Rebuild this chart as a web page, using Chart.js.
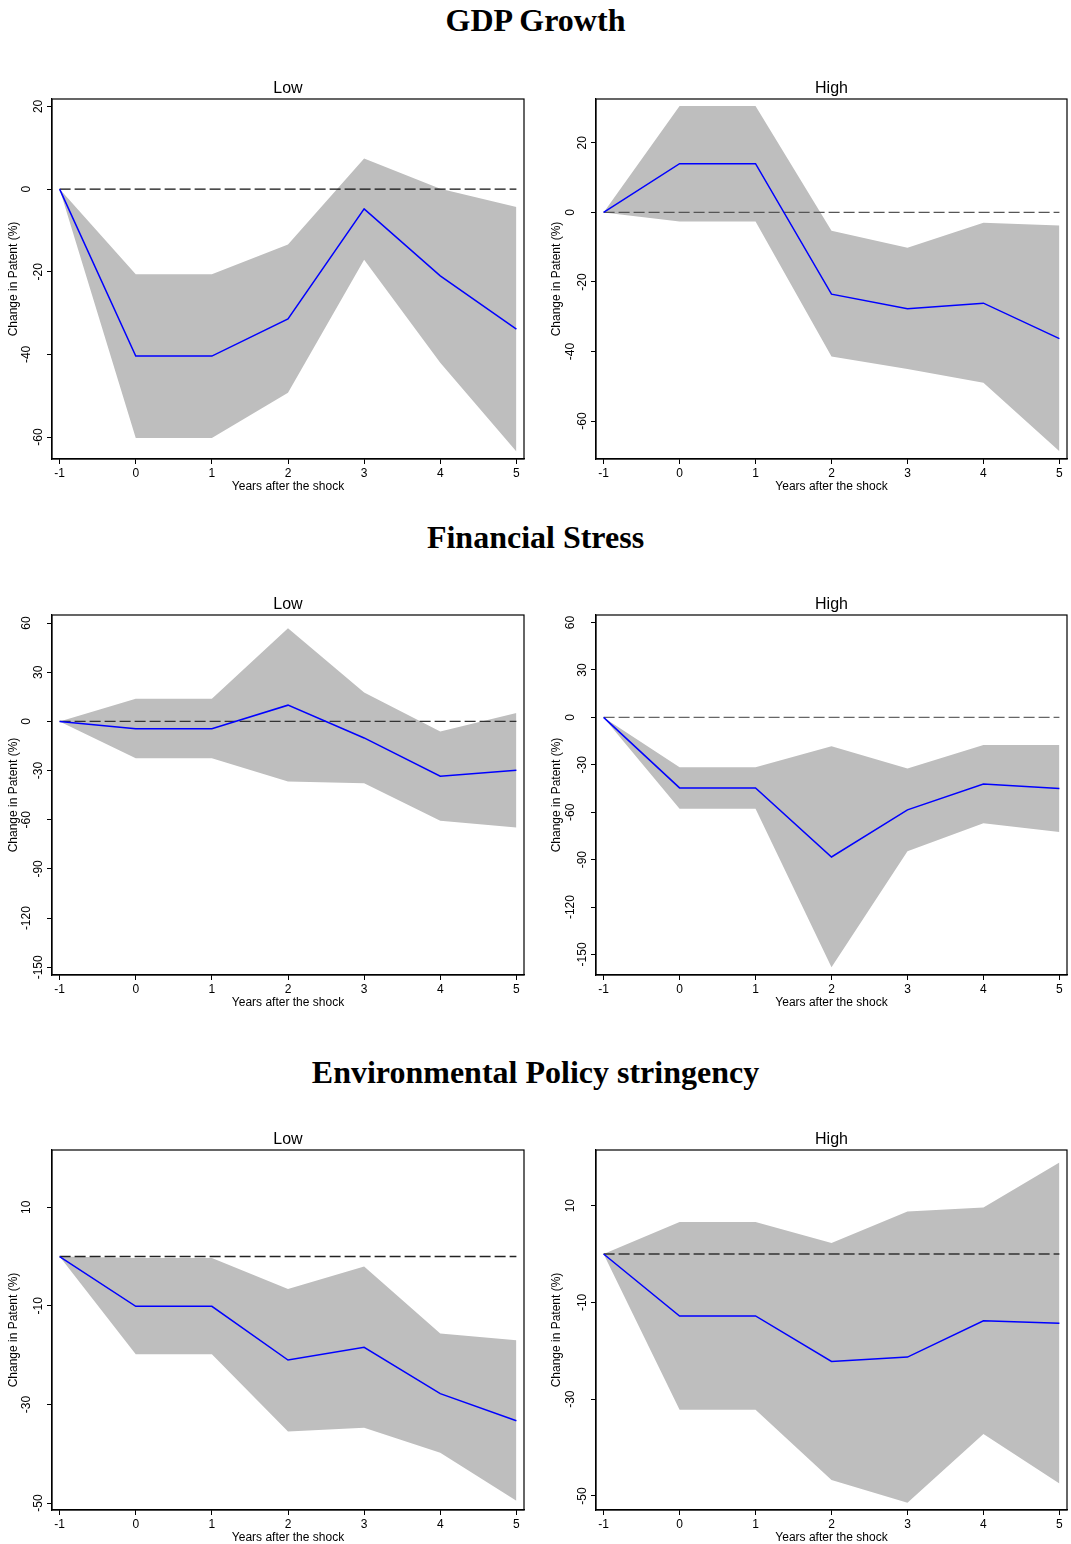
<!DOCTYPE html>
<html>
<head>
<meta charset="utf-8">
<script src="https://cdn.jsdelivr.net/npm/chart.js@4"></script>
<style>
  body { margin: 0; width: 1071px; height: 1544px; position: relative; background: #fff; overflow: hidden; }
  .sec { position: absolute; left: 0; width: 1071px; height: 40px; line-height: 40px; text-align: center;
         font: bold 32px "Liberation Serif", "Times New Roman", serif; color: #000; }
  canvas { position: absolute; }
</style>
</head>
<body>
<div class="sec" style="top:2px">GDP Growth</div>
<div class="sec" style="top:519px">Financial Stress</div>
<div class="sec" style="top:1054px">Environmental Policy stringency</div>

<canvas id="gdpLow" width="536" height="432" style="left:0px;top:69px"></canvas>
<canvas id="gdpHigh" width="528" height="432" style="left:543px;top:69px"></canvas>
<canvas id="fsLow" width="536" height="432" style="left:0px;top:585px"></canvas>
<canvas id="fsHigh" width="528" height="432" style="left:543px;top:585px"></canvas>
<canvas id="envLow" width="536" height="432" style="left:0px;top:1120px"></canvas>
<canvas id="envHigh" width="528" height="432" style="left:543px;top:1120px"></canvas>

<script>
// years after the shock
const years = [-1, 0, 1, 2, 3, 4, 5];

// GDP growth
const gdpLowMean = [0, -40.4, -40.4, -31.4, -4.8, -21.0, -33.9];
const gdpLowUpper = [0, -20.6, -20.6, -13.4, 7.4, 0.1, -4.3];
const gdpLowLower = [0, -60.2, -60.2, -49.3, -17.1, -42.0, -63.5];
const gdpHighMean = [0, 14.0, 14.0, -23.5, -27.7, -26.1, -36.3];
const gdpHighUpper = [0, 30.6, 30.6, -5.3, -10.2, -3.0, -3.8];
const gdpHighLower = [0, -2.6, -2.6, -41.4, -45.0, -49.0, -68.7];

// financial stress
const fsLowMean = [0, -4.5, -4.5, 9.9, -10.1, -33.4, -29.8];
const fsLowUpper = [0, 13.8, 13.8, 56.8, 17.6, -6.1, 5.1];
const fsLowLower = [0, -22.5, -22.5, -36.7, -37.7, -60.6, -64.7];
const fsHighMean = [0, -44.6, -44.6, -88.3, -58.5, -42.1, -45.0];
const fsHighUpper = [0, -31.5, -31.5, -18.3, -32.4, -17.5, -17.5];
const fsHighLower = [0, -57.8, -57.8, -158.1, -84.7, -66.9, -72.5];

// environmental policy stringency
const envLowMean = [0, -10.1, -10.1, -21.0, -18.4, -27.8, -33.3];
const envLowUpper = [0, -0.3, -0.3, -6.6, -2.0, -15.6, -17.0];
const envLowLower = [0, -19.8, -19.8, -35.5, -34.7, -39.8, -49.5];
const envHighMean = [0, -12.8, -12.8, -22.2, -21.3, -13.8, -14.3];
const envHighUpper = [0, 6.6, 6.6, 2.3, 8.8, 9.6, 18.9];
const envHighLower = [0, -32.2, -32.2, -46.7, -51.4, -37.2, -47.4];

// y tick labels
const gdpTicks = [-60, -40, -20, 0, 20];
const fsTicks = [-150, -120, -90, -60, -30, 0, 30, 60];
const envTicks = [-50, -30, -10, 10];

const panels = [
  { id: 'gdpLow', title: 'Low', mean: gdpLowMean, upper: gdpLowUpper, lower: gdpLowLower, ticks: gdpTicks, min: -65.3, max: 21.8, zero: '#111', right: 12, yw: 52 },
  { id: 'gdpHigh', title: 'High', mean: gdpHighMean, upper: gdpHighUpper, lower: gdpHighLower, ticks: gdpTicks, min: -70.9, max: 32.6, zero: '#555', right: 4, yw: 53 },
  { id: 'fsLow', title: 'Low', mean: fsLowMean, upper: fsLowUpper, lower: fsLowLower, ticks: fsTicks, min: -154.7, max: 64.9, zero: '#333', right: 12, yw: 52 },
  { id: 'fsHigh', title: 'High', mean: fsHighMean, upper: fsHighUpper, lower: fsHighLower, ticks: fsTicks, min: -163.0, max: 64.8, zero: '#666', right: 4, yw: 53 },
  { id: 'envLow', title: 'Low', mean: envLowMean, upper: envLowUpper, lower: envLowLower, ticks: envTicks, min: -51.4, max: 21.6, zero: '#222', right: 12, yw: 52 },
  { id: 'envHigh', title: 'High', mean: envHighMean, upper: envHighUpper, lower: envHighLower, ticks: envTicks, min: -52.9, max: 21.5, zero: '#333', right: 4, yw: 53 },
];

const FONT = '"Liberation Sans", Arial, Helvetica, sans-serif';
Chart.defaults.font.family = FONT;
Chart.defaults.color = '#000';

// box around plot, panel title over the plot, rotated + alternating y labels (stata style)
const stataFrame = {
  id: 'stataFrame',
  afterDraw(chart, args, opts) {
    const { ctx, chartArea: a } = chart;
    const y = chart.scales.y;
    ctx.save();
    ctx.strokeStyle = '#000';
    ctx.lineWidth = 1.2;
    ctx.strokeRect(a.left, a.top, a.right - a.left, a.bottom - a.top);
    ctx.fillStyle = '#000';
    ctx.textAlign = 'center';
    ctx.textBaseline = 'middle';
    ctx.font = `16px ${FONT}`;
    ctx.fillText(opts.text, (a.left + a.right) / 2, a.top - 10.5);
    ctx.font = `12px ${FONT}`;
    const vals = y.ticks.map((t) => t.value).sort((p, q) => p - q);
    vals.forEach((v, i) => {
      const off = i % 2 === 0 ? 13 : 25;
      ctx.save();
      ctx.translate(a.left - off, y.getPixelForValue(v));
      ctx.rotate(-Math.PI / 2);
      ctx.fillText(String(v), 0, 0);
      ctx.restore();
    });
    ctx.restore();
  },
};

const pts = (arr) => years.map((x, i) => ({ x, y: arr[i] }));

const axisGrid = { drawOnChartArea: false, drawTicks: true, tickLength: 5, color: '#000', lineWidth: 1 };
const axisBorder = { display: true, color: '#000', width: 1.2 };

panels.forEach((p) => {
  new Chart(document.getElementById(p.id), {
    type: 'line',
    data: {
      datasets: [
        { data: pts(p.mean), borderColor: '#0000ff', borderWidth: 1.5, pointRadius: 0, fill: false, order: 0 },
        {
          data: [{ x: years[0], y: 0 }, { x: years[years.length - 1], y: 0 }],
          borderColor: p.zero, borderWidth: 1.4, borderDash: [11, 4], pointRadius: 0, fill: false, order: 1,
        },
        { data: pts(p.upper), borderColor: 'rgba(0,0,0,0)', borderWidth: 0, pointRadius: 0, backgroundColor: '#bebebe', fill: '+1', order: 2 },
        { data: pts(p.lower), borderColor: 'rgba(0,0,0,0)', borderWidth: 0, pointRadius: 0, fill: false, order: 3 },
      ],
    },
    options: {
      responsive: false,
      animation: false,
      events: [],
      layout: { padding: { left: 0, right: p.right, top: 30, bottom: 0 } },
      plugins: {
        legend: { display: false },
        tooltip: { enabled: false },
        title: { display: false },
        stataFrame: { text: p.title },
      },
      scales: {
        x: {
          type: 'linear',
          min: -1.1,
          max: 5.1,
          afterBuildTicks: (s) => { s.ticks = years.map((v) => ({ value: v })); },
          afterFit: (s) => { s.height = 42; },
          ticks: { color: '#000', font: { size: 12 }, padding: 2, autoSkip: false, maxRotation: 0 },
          grid: axisGrid,
          border: axisBorder,
          title: { display: true, text: 'Years after the shock', color: '#000', font: { size: 12 }, padding: { top: 0, bottom: 6.8 } },
        },
        y: {
          type: 'linear',
          min: p.min,
          max: p.max,
          afterBuildTicks: (s) => { s.ticks = p.ticks.map((v) => ({ value: v })); },
          afterFit: (s) => { s.width = p.yw; },
          ticks: { display: false },
          grid: axisGrid,
          border: axisBorder,
          title: { display: true, text: 'Change in Patent (%)', color: '#000', font: { size: 12 }, padding: { top: 6.8, bottom: 0 } },
        },
      },
    },
    plugins: [stataFrame],
  });
});
</script>
</body>
</html>
